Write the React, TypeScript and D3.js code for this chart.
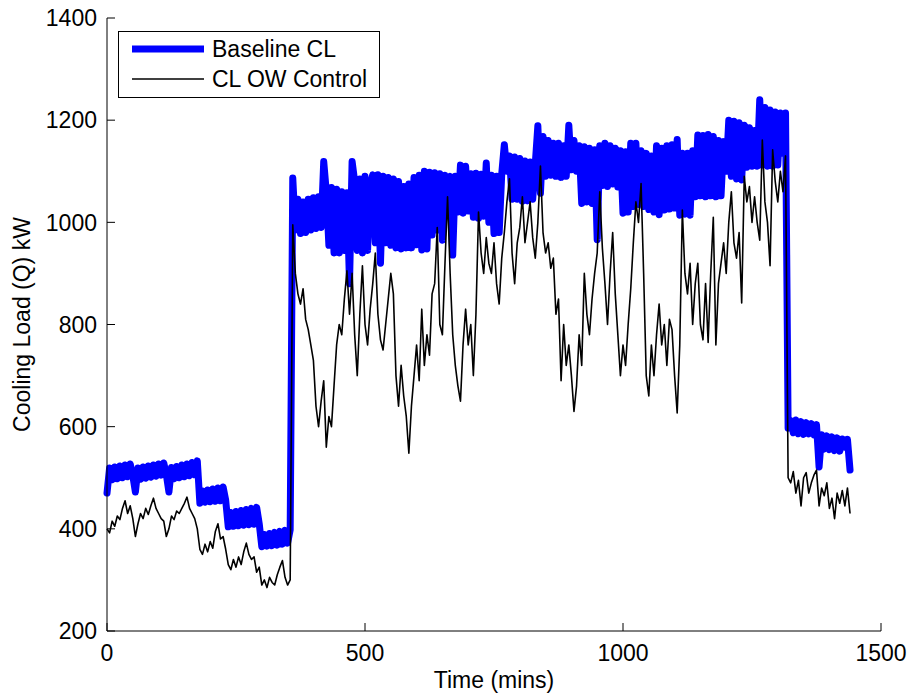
import * as d3 from 'd3';

// sample spacing of the logged loads, in minutes
const timeStep = 5;

// Baseline cooling load (kW), one row per hour, 5 min samples
const baselineCL = [
  470, 519, 496, 521, 498, 523, 500, 525, 502, 527, 504, 472,
  519, 497, 521, 499, 523, 501, 525, 503, 527, 505, 529, 506,
  472, 520, 498, 522, 500, 525, 502, 527, 504, 530, 506, 533,
  450, 474, 452, 476, 453, 478, 454, 480, 455, 482, 456, 404,
  432, 405, 434, 406, 436, 407, 438, 408, 440, 409, 442, 410,
  365, 389, 366, 391, 367, 393, 368, 395, 370, 397, 372, 398,
  1087, 985, 1045, 978, 1040, 980, 1045, 985, 1048, 988, 1050, 990,
  1119, 1060, 955, 1068, 940, 1065, 940, 1060, 945, 1058, 880, 1119,
  1080, 945, 1085, 940, 1090, 945, 1070, 1093, 960, 1093, 920, 1090,
  960, 1088, 955, 1085, 950, 1080, 948, 1070, 950, 1075, 950, 1088,
  956, 1092, 946, 1100, 948, 1098, 975, 1097, 985, 1095, 965, 1092,
  1068, 1090, 936, 1090, 1020, 1112, 1018, 1110, 1022, 1095, 1010, 1096,
  1008, 1094, 1012, 1116, 1000, 1092, 978, 1090, 980, 1095, 1152, 1100,
  1130, 1045, 1128, 1045, 1125, 1041, 1120, 1042, 1118, 1045, 1115, 1189,
  1057, 1168, 1090, 1160, 1092, 1155, 1090, 1155, 1088, 1150, 1090, 1190,
  1103, 1160, 1100, 1150, 1037, 1148, 1040, 1145, 1037, 1142, 966, 1150,
  1072, 1155, 1070, 1150, 1075, 1145, 1069, 1140, 1018, 1138, 1020, 1155,
  1031, 1155, 1035, 1140, 1031, 1135, 1025, 1130, 1020, 1150, 1015, 1145,
  1024, 1150, 1026, 1152, 1028, 1162, 1014, 1135, 1016, 1135, 1014, 1140,
  1050, 1171, 1052, 1170, 1050, 1172, 1052, 1168, 1050, 1160, 1052, 1158,
  1100, 1200, 1090, 1198, 1085, 1195, 1083, 1190, 1108, 1185, 1110, 1180,
  1110, 1240, 1112, 1225, 1110, 1220, 1110, 1216, 1112, 1214, 1135, 1214,
  597, 612, 588, 613, 586, 610, 585, 608, 586, 606, 584, 604,
  521, 584, 556, 582, 555, 580, 553, 578, 552, 576, 560, 575,
  515,
];

// Cooling load with OW control (kW), same sampling
const controlCL = [
  400, 392, 415, 405, 425, 418, 440, 455, 430, 445, 420, 385,
  410, 430, 420, 440, 428, 445, 460, 440, 430, 420, 415, 385,
  400, 425, 418, 435, 430, 440, 450, 462, 440, 430, 420, 400,
  360, 350, 370, 355, 375, 362, 395, 410, 380, 385, 360, 330,
  320, 340, 325, 345, 330, 355, 372, 350, 340, 345, 315, 325,
  290, 300, 285, 305, 295, 290, 310, 325, 338, 305, 290, 300,
  995, 900, 860, 840, 870, 810, 790, 760, 730, 640, 600, 650,
  690, 560, 620, 600, 680, 760, 800, 780, 850, 905, 820, 900,
  780, 700, 820, 915, 800, 760, 830, 880, 940, 820, 770, 750,
  800, 850, 900, 860, 700, 640, 720, 660, 620, 548, 640, 700,
  760, 690, 830, 720, 780, 740, 860, 880, 990, 800, 780, 920,
  1050, 900, 780, 720, 680, 650, 760, 830, 760, 800, 700, 820,
  1020, 940, 900, 970, 920, 900, 960, 880, 840, 930, 980, 1040,
  1085, 940, 880, 960, 990, 1050, 960, 1000, 1040, 970, 930, 1000,
  1110, 980, 940, 960, 910, 930, 820, 850, 690, 800, 720, 760,
  700, 630, 680, 780, 720, 900, 820, 780, 850, 900, 940, 1060,
  950, 880, 800, 900, 980, 860, 780, 700, 760, 720, 800, 870,
  960, 1040, 1000, 1076, 900, 700, 660, 760, 700, 780, 840, 760,
  800, 720, 810, 790, 700, 627, 760, 1024, 900, 860, 920, 800,
  880, 920, 800, 770, 880, 765, 900, 1010, 760, 880, 920, 960,
  900, 1000, 1060, 960, 930, 980, 842, 1090, 1040, 1070, 1000, 1050,
  1000, 965, 1161, 1040, 1000, 915, 1142, 1080, 1040, 1100, 1060, 1130,
  500, 490, 512, 470, 495, 445, 500, 510, 470, 490, 505, 515,
  445, 480, 465, 490, 440, 460, 420, 470, 450, 475, 445, 480,
  430,
];

const xTicks = [0, 500, 1000, 1500];
const yTicks = [200, 400, 600, 800, 1000, 1200, 1400];
const legendLabels = ['Baseline CL', 'CL OW Control'];

const font = '"Liberation Sans", Arial, Helvetica, sans-serif';

export default function App() {
  const width = 912;
  const height = 694;
  const left = 107, right = 881, top = 18, bottom = 631;
  const tickLen = 8;

  const x = d3.scaleLinear().domain([0, 1500]).range([left, right]);
  const y = d3.scaleLinear().domain([200, 1400]).range([bottom, top]);

  const line = d3.line<number>()
    .x((_, i) => x(i * timeStep))
    .y(d => y(d));

  return (
    <svg width={width} height={height}
      style={{ position: 'absolute', left: 0, top: 0, background: '#fff' }}
      fontFamily={font} fontSize={23}>
      <rect width={width} height={height} fill="#fff" />

      {/* series */}
      <path d={line(baselineCL) || ''} fill="none" stroke="#0000ff" strokeWidth={7}
        strokeLinejoin="round" strokeLinecap="round" />
      <path d={line(controlCL) || ''} fill="none" stroke="#000" strokeWidth={1.6}
        strokeLinejoin="round" />

      {/* axes */}
      <line x1={left} x2={left} y1={top} y2={bottom} stroke="#000" />
      <line x1={left} x2={right} y1={bottom} y2={bottom} stroke="#000" />
      {yTicks.map(t => (
        <g key={'y' + t}>
          <line x1={left} x2={left + tickLen} y1={y(t)} y2={y(t)} stroke="#000" />
          <text x={left - 10} y={y(t)} dy="0.36em" textAnchor="end">{t}</text>
        </g>
      ))}
      {xTicks.map(t => (
        <g key={'x' + t}>
          <line x1={x(t)} x2={x(t)} y1={bottom} y2={bottom - tickLen} stroke="#000" />
          <text x={x(t)} y={661} textAnchor="middle">{t}</text>
        </g>
      ))}
      <text x={(left + right) / 2} y={688} textAnchor="middle">Time (mins)</text>
      <text transform={`translate(30, ${(top + bottom) / 2}) rotate(-90)`} textAnchor="middle">
        Cooling Load (Q) kW
      </text>

      {/* legend */}
      <rect x={118.5} y={31.5} width={261} height={66} fill="#fff" stroke="#000" />
      <line x1={132} x2={204} y1={49} y2={49} stroke="#0000ff" strokeWidth={7} />
      <line x1={132} x2={204} y1={79} y2={79} stroke="#000" strokeWidth={1.3} />
      <text x={212} y={57}>{legendLabels[0]}</text>
      <text x={212} y={87}>{legendLabels[1]}</text>
    </svg>
  );
}
